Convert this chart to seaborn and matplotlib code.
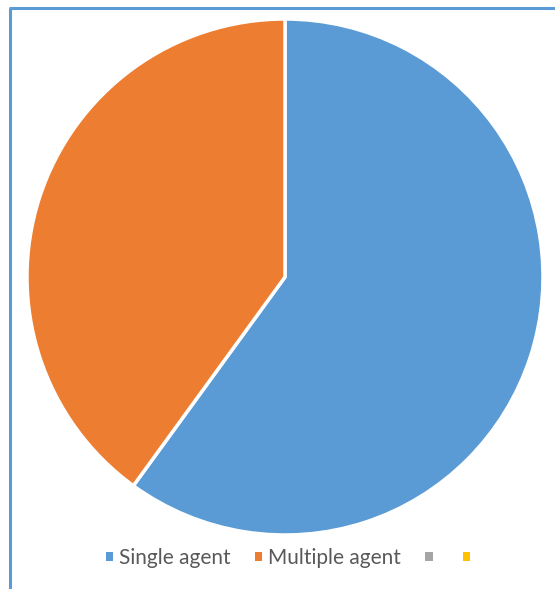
import matplotlib
matplotlib.use("Agg")
import matplotlib.pyplot as plt
import seaborn as sns
from matplotlib.lines import Line2D
from matplotlib.patches import Patch

sns.set_style("white")
plt.rcParams['font.family'] = ['Lato', 'DejaVu Sans']

categories = ["Single agent", "Multiple agent", "", ""]
values = [60, 40, 0, 0]
colors = ["#5B9BD5", "#ED7D31", "#A5A5A5", "#FFC000"]

W, H = 555, 589
fig = plt.figure(figsize=(W / 100, H / 100), dpi=100)

cx, cy, r = 285, 277, 258
ax = fig.add_axes([(cx - r) / W, (H - cy - r) / H, 2 * r / W, 2 * r / H])
ax.pie(values[:2], colors=colors[:2], startangle=90, counterclock=False,
       radius=1.0, wedgeprops=dict(edgecolor="white", linewidth=2.5))
ax.set_xlim(-1.0, 1.0)
ax.set_ylim(-1.0, 1.0)
ax.set_aspect("equal")
ax.axis("off")

# chart border (left and top visible)
bc = "#5B9BD5"
fig.add_artist(Line2D([9.5 / W, 9.5 / W], [0, 1 - 7.5 / H], transform=fig.transFigure,
                      color=bc, linewidth=2.2, solid_capstyle="butt"))
fig.add_artist(Line2D([8.5 / W, 1], [1 - 7.5 / H, 1 - 7.5 / H], transform=fig.transFigure,
                      color=bc, linewidth=2.2, solid_capstyle="butt"))

handles = [Patch(facecolor=c, edgecolor="none") for c in colors]
leg = fig.legend(handles, categories, loc="center", bbox_to_anchor=(291 / W, 1 - 558 / H),
                 ncol=4, frameon=False, fontsize=15, handlelength=0.35, handleheight=0.35,
                 handletextpad=0.3, columnspacing=1.15, labelcolor="#595959")

fig.savefig("out.png", dpi=100)
